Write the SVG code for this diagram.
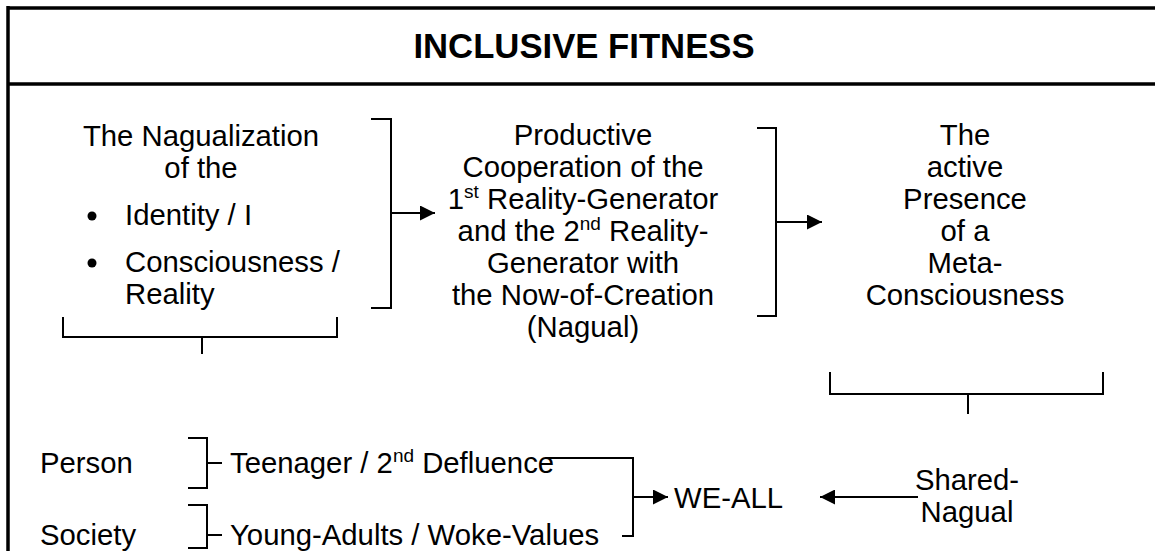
<svg xmlns="http://www.w3.org/2000/svg" width="1155" height="551" viewBox="0 0 1155 551">
<style>
.t{font-family:"Liberation Sans",Arial,sans-serif;font-size:29.3px;fill:#000}
.m{text-anchor:middle}
.sup{font-size:19px}
.ln{stroke:#000;stroke-width:2;fill:none}
.fr{stroke:#000;stroke-width:3.5;fill:none}
</style>
<defs>
<marker id="ah" viewBox="0 0 10 10" refX="10" refY="5" markerWidth="17" markerHeight="15" markerUnits="userSpaceOnUse" orient="auto">
<path d="M0,0 L10,5 L0,10 Z" fill="#000"/>
</marker>
</defs>
<rect width="1155" height="551" fill="#fff"/>
<g id="frame">
<line class="fr" x1="8" y1="8" x2="1155" y2="8"/>
<line class="fr" x1="8" y1="84" x2="1155" y2="84"/>
<line class="fr" x1="8" y1="6" x2="8" y2="551"/>
</g>
<g id="title">
<text class="t m" x="584" y="58" style="font-size:34.7px;font-weight:bold">INCLUSIVE FITNESS</text>
</g>
<g id="nagualization">
<text class="t m" x="201" y="146">The Nagualization</text>
<text class="t m" x="201" y="178">of the</text>
<circle cx="92" cy="216" r="4.5"/>
<text class="t" x="125" y="225">Identity / I</text>
<circle cx="92" cy="263" r="4.5"/>
<text class="t" x="125" y="272">Consciousness /</text>
<text class="t" x="125" y="304">Reality</text>
</g>
<g id="cooperation">
<text class="t m" x="583" y="145">Productive</text>
<text class="t m" x="583" y="177">Cooperation of the</text>
<text class="t m" x="583" y="209">1<tspan class="sup" dy="-11">st</tspan><tspan dy="11"> Reality-Generator</tspan></text>
<text class="t m" x="583" y="241">and the 2<tspan class="sup" dy="-11">nd</tspan><tspan dy="11"> Reality-</tspan></text>
<text class="t m" x="583" y="273">Generator with</text>
<text class="t m" x="583" y="305">the Now-of-Creation</text>
<text class="t m" x="583" y="337">(Nagual)</text>
</g>
<g id="metaconsciousness">
<text class="t m" x="965" y="145">The</text>
<text class="t m" x="965" y="177">active</text>
<text class="t m" x="965" y="209">Presence</text>
<text class="t m" x="965" y="241">of a</text>
<text class="t m" x="965" y="273">Meta-</text>
<text class="t m" x="965" y="305">Consciousness</text>
</g>
<g id="person">
<text class="t" x="40" y="473">Person</text>
<text class="t" x="230" y="473">Teenager / 2<tspan class="sup" dy="-11">nd</tspan><tspan dy="11"> Defluence</tspan></text>
</g>
<g id="society">
<text class="t" x="40" y="545">Society</text>
<text class="t" x="230" y="545">Young-Adults / Woke-Values</text>
</g>
<g id="weall">
<text class="t" x="674" y="508">WE-ALL</text>
</g>
<g id="sharednagual">
<text class="t m" x="967" y="490">Shared-</text>
<text class="t m" x="967" y="522">Nagual</text>
</g>
<g id="connectors">
<path class="ln" d="M371,119 H391 V308 H371"/>
<line class="ln" x1="391" y1="213" x2="435" y2="213" marker-end="url(#ah)"/>
<path class="ln" d="M757,128 H776 V316 H757"/>
<line class="ln" x1="776" y1="222" x2="822" y2="222" marker-end="url(#ah)"/>
<path class="ln" d="M63,317 V337 H337 V317 M202,337 V354"/>
<path class="ln" d="M830,372 V394 H1103 V372 M968,394 V414"/>
<path class="ln" d="M188,438 H207 V488 H188 M207,463 H222"/>
<path class="ln" d="M188,505 H207 V548 H188 M207,535 H222"/>
<path class="ln" d="M546,458 H633 V536 H622"/>
<line class="ln" x1="633" y1="497" x2="668" y2="497" marker-end="url(#ah)"/>
<line class="ln" x1="918" y1="497" x2="820" y2="497" marker-end="url(#ah)"/>
</g>
</svg>
